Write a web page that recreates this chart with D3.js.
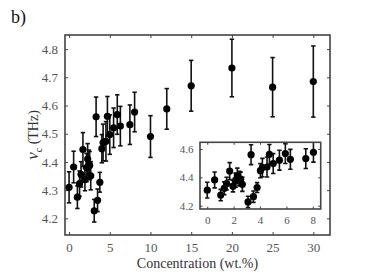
<!DOCTYPE html>
<html>
<head>
<meta charset="utf-8">
<script src="https://cdn.jsdelivr.net/npm/d3@7"></script>
<style>
  body { margin: 0; background: #fff; }
  svg text { font-family: "Liberation Serif", "Times New Roman", Times, serif !important; }
</style>
</head>
<body>
<div id="chart"></div>
<script>
// concentration (wt.%), nu_c (THz) and error
let conc = [0, 0.56, 1.02, 1.29, 1.47, 1.7, 1.95, 2.15, 2.28, 2.43, 2.53, 2.66,
            3.09, 3.32, 3.5, 3.78, 4.03, 4.18, 4.53, 4.71, 5.0, 5.47, 5.92, 6.3,
            7.47, 8.05, 10, 12, 15, 20, 25, 30];
let nu = [4.31, 4.382, 4.275, 4.323, 4.356, 4.444, 4.338, 4.38, 4.41, 4.392, 4.387, 4.351,
          4.227, 4.56, 4.264, 4.328, 4.447, 4.469, 4.473, 4.562, 4.497, 4.521, 4.568, 4.527,
          4.532, 4.577, 4.49, 4.588, 4.67, 4.733, 4.665, 4.685];
let err = [0.055, 0.056, 0.04, 0.045, 0.045, 0.06, 0.04, 0.05, 0.055, 0.05, 0.05, 0.05,
           0.04, 0.07, 0.04, 0.035, 0.05, 0.065, 0.07, 0.07, 0.07, 0.07, 0.07, 0.07,
           0.07, 0.07, 0.074, 0.072, 0.09, 0.102, 0.105, 0.126];

let xTicks = [0, 5, 10, 15, 20, 25, 30];
let yTicks = [4.2, 4.3, 4.4, 4.5, 4.6, 4.7, 4.8];
let insetXTicks = [0, 2, 4, 6, 8];
let insetYTicks = [4.2, 4.4, 4.6];

let data = conc.map((c, i) => ({c: c, v: nu[i], e: err[i]}));

let svgWidth = 374, svgHeight = 279;
let margin = {top: 35, right: 44, bottom: 44, left: 65};
let width = svgWidth - margin.left - margin.right;
let height = svgHeight - margin.top - margin.bottom;

let serif = "'Liberation Serif', 'Times New Roman', serif";
let axisColor = "#444";
let labelColor = "#555";

let svg = d3.select("#chart").append("svg")
  .attr("width", svgWidth)
  .attr("height", svgHeight)
  .attr("font-family", serif);

svg.append("text")
  .attr("x", 11).attr("y", 23)
  .attr("font-size", 18)
  .attr("fill", "#111")
  .text("b)");

// draw a framed panel with inward ticks on all sides
function panel(g, x, y, w, h, xt, yt, fs, tickLen, fmtX, fmtY) {
  let tl = -tickLen;
  let bottom = g.append("g").attr("transform", `translate(0,${h})`)
    .call(d3.axisBottom(x).tickValues(xt).tickSize(tl).tickFormat(fmtX).tickPadding(tickLen + 5));
  let top = g.append("g")
    .call(d3.axisTop(x).tickValues(xt).tickSize(tl).tickFormat(""));
  let left = g.append("g")
    .call(d3.axisLeft(y).tickValues(yt).tickSize(tl).tickFormat(fmtY).tickPadding(tickLen + 4));
  let right = g.append("g").attr("transform", `translate(${w},0)`)
    .call(d3.axisRight(y).tickValues(yt).tickSize(tl).tickFormat(""));
  [bottom, top, left, right].forEach(a => {
    a.attr("font-family", serif);
    a.select(".domain").remove();
    a.selectAll("line").attr("stroke", axisColor).attr("stroke-width", 1);
    a.selectAll("text").attr("fill", labelColor).attr("font-size", fs);
  });
  g.append("rect")
    .attr("width", w).attr("height", h)
    .attr("fill", "none")
    .attr("stroke", axisColor)
    .attr("stroke-width", 1.6);
}

function marks(g, rows, x, y, r, cap, sw) {
  let bars = g.append("g").selectAll("g")
    .data(rows).enter().append("g");
  bars.append("line")
    .attr("x1", d => x(d.c)).attr("x2", d => x(d.c))
    .attr("y1", d => y(d.v - d.e)).attr("y2", d => y(d.v + d.e))
    .attr("stroke", "#111").attr("stroke-width", sw);
  bars.append("line")
    .attr("x1", d => x(d.c) - cap).attr("x2", d => x(d.c) + cap)
    .attr("y1", d => y(d.v - d.e)).attr("y2", d => y(d.v - d.e))
    .attr("stroke", "#111").attr("stroke-width", sw);
  bars.append("line")
    .attr("x1", d => x(d.c) - cap).attr("x2", d => x(d.c) + cap)
    .attr("y1", d => y(d.v + d.e)).attr("y2", d => y(d.v + d.e))
    .attr("stroke", "#111").attr("stroke-width", sw);
  g.append("g").selectAll("circle")
    .data(rows).enter().append("circle")
    .attr("cx", d => x(d.c)).attr("cy", d => y(d.v))
    .attr("r", r).attr("fill", "#000");
}

// main chart
let chartGroup = svg.append("g")
  .attr("transform", `translate(${margin.left},${margin.top})`);

let xScale = d3.scaleLinear().domain([-0.5, 32.05]).range([0, width]);
let yScale = d3.scaleLinear().domain([4.141, 4.85]).range([height, 0]);

panel(chartGroup, xScale, yScale, width, height, xTicks, yTicks, 13, 3,
      d3.format("d"), d3.format(".1f"));
marks(chartGroup, data, xScale, yScale, 3.6, 2.2, 1.6);

// x axis label
chartGroup.append("text")
  .attr("x", width / 2).attr("y", height + 33)
  .attr("text-anchor", "middle")
  .attr("font-size", 14)
  .attr("fill", "#333")
  .text("Concentration (wt.%)");

// y axis label
let yLabel = svg.append("text")
  .attr("transform", `translate(38, ${margin.top + height / 2}) rotate(-90)`)
  .attr("text-anchor", "middle")
  .attr("font-size", 14)
  .attr("fill", "#333");
yLabel.append("tspan").attr("font-style", "italic").attr("font-size", 17).text("\u03bd");
yLabel.append("tspan").attr("dy", 4).attr("font-size", 10).text("c");
yLabel.append("tspan").attr("dy", -4).text(" (THz)");

// inset
let inX = 200, inY = 142.3, inW = 120.7, inH = 66.7;
let inset = svg.append("g").attr("transform", `translate(${inX},${inY})`);
inset.append("rect").attr("width", inW).attr("height", inH).attr("fill", "#fff");

let ixScale = d3.scaleLinear().domain([-0.55, 8.6]).range([0, inW]);
let iyScale = d3.scaleLinear().domain([4.177, 4.647]).range([inH, 0]);

svg.append("clipPath").attr("id", "insetClip")
  .append("rect").attr("width", inW).attr("height", inH);

let insetMarks = inset.append("g").attr("clip-path", "url(#insetClip)");
marks(insetMarks, data.filter(d => d.c <= 8.5), ixScale, iyScale, 3.6, 2.2, 1.6);

panel(inset, ixScale, iyScale, inW, inH, insetXTicks, insetYTicks, 11, 2.5,
      d3.format("d"), d3.format(".1f"));
</script>
</body>
</html>
